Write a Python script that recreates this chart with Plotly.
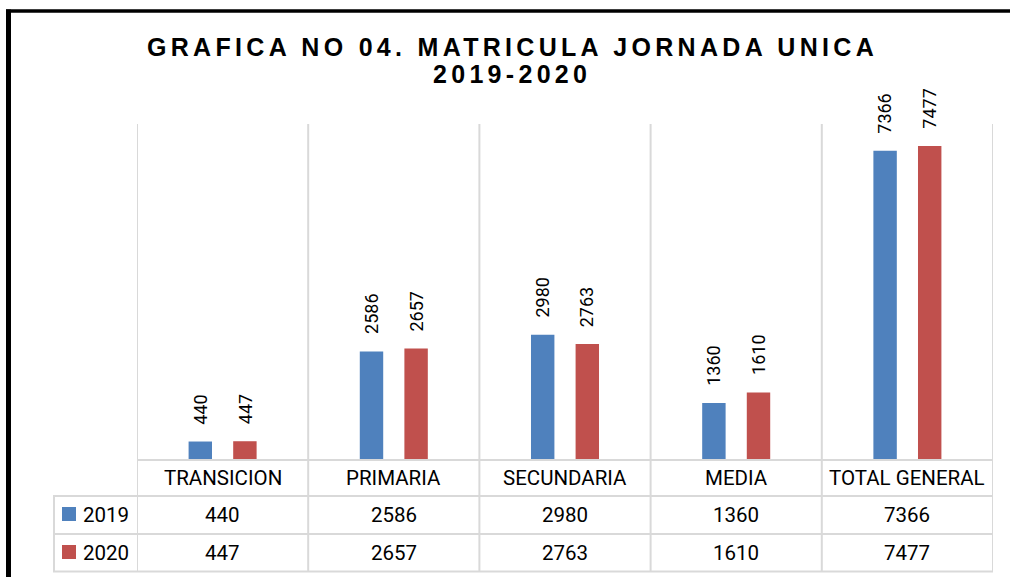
import plotly.graph_objects as go

# ---------------- data ----------------
categories = ["TRANSICION", "PRIMARIA", "SECUNDARIA", "MEDIA", "TOTAL GENERAL"]
series_names = ["2019", "2020"]
values_2019 = [440, 2586, 2980, 1360, 7366]
values_2020 = [447, 2657, 2763, 1610, 7477]
title_line1 = "GRAFICA NO 04. MATRICULA JORNADA UNICA"
title_line2 = "2019-2020"

# ---------------- layout geometry ----------------
W, H = 1010, 577
L, R, T, B = 137, 17, 124, 117
PW, PH = W - L - R, H - T - B

def px_x(p):
    return (p - L) / PW

def px_y(p):
    return (H - B - p) / PH

BLUE = "#4F81BD"
RED = "#C0504D"
GRID = "#D9D9D9"
colors = [BLUE, RED]
series_values = [values_2019, values_2020]

fig = go.Figure()
for name, vals, col in zip(series_names, series_values, colors):
    fig.add_trace(go.Bar(x=categories, y=vals, name=name,
                         marker=dict(color=col, line=dict(width=0)),
                         hoverinfo="x+y+name"))

annotations = []
shapes = []

# rotated data labels above bars
offsets = [-22.3, 22.3]
for vals, dx in zip(series_values, offsets):
    for c, v in zip(categories, vals):
        annotations.append(dict(x=c, y=v, xref="x", yref="y", text=str(v),
                                showarrow=False, textangle=-90,
                                xanchor="center", yanchor="bottom",
                                xshift=dx, yshift=15,
                                font=dict(family="Roboto", size=18, color="black")))

# data table: category row
row_cat_y = px_y(477.5)
row_y = [px_y(514.5), px_y(552.5)]
for c in categories:
    annotations.append(dict(x=c, y=row_cat_y, xref="x", yref="paper", text=c,
                            showarrow=False, xanchor="center", yanchor="middle",
                            font=dict(family="Roboto", size=20.5, color="black")))
for ry, vals in zip(row_y, series_values):
    for c, v in zip(categories, vals):
        annotations.append(dict(x=c, y=ry, xref="x", yref="paper", text=str(v),
                                showarrow=False, xanchor="center", yanchor="middle",
                                font=dict(family="Roboto", size=20.5, color="black")))

# legend keys in the table
key_tops = [507, 545]
for ry, name, col, kt in zip(row_y, series_names, colors, key_tops):
    shapes.append(dict(type="rect", xref="paper", yref="paper",
                       x0=px_x(62), x1=px_x(76), y0=px_y(kt), y1=px_y(kt + 14),
                       fillcolor=col, line=dict(width=0)))
    annotations.append(dict(x=px_x(81), y=ry, xref="paper", yref="paper", text=name,
                            showarrow=False, xanchor="left", yanchor="middle",
                            font=dict(family="Roboto", size=20.5, color="black")))

# table / grid lines
line_style = dict(color=GRID, width=2)
for i in range(len(categories) + 1):
    shapes.append(dict(type="line", xref="x", yref="paper",
                       x0=i - 0.5, x1=i - 0.5, y0=1, y1=px_y(571.5),
                       line=line_style, layer="below"))
shapes.append(dict(type="line", xref="paper", yref="paper", x0=0, x1=1,
                   y0=0, y1=0, line=line_style))
for yy in [496, 534, 571.5]:
    shapes.append(dict(type="line", xref="paper", yref="paper",
                       x0=px_x(53), x1=1, y0=px_y(yy), y1=px_y(yy), line=line_style))
shapes.append(dict(type="line", xref="paper", yref="paper",
                   x0=px_x(54), x1=px_x(54), y0=px_y(496), y1=px_y(571.5),
                   line=line_style))

# black frame (left and top edges)
shapes.append(dict(type="line", xref="paper", yref="paper",
                   x0=px_x(8.5), x1=px_x(8.5), y0=px_y(9.5), y1=px_y(H + 2),
                   line=dict(color="black", width=5)))
shapes.append(dict(type="line", xref="paper", yref="paper",
                   x0=px_x(6), x1=px_x(W + 2), y0=px_y(11), y1=px_y(11),
                   line=dict(color="black", width=3.5)))

# title
for txt, cy in [(title_line1, 46.5), (title_line2, 73.5)]:
    annotations.append(dict(x=px_x(512), y=px_y(cy), xref="paper", yref="paper",
                            text='<b><span style="letter-spacing:4.3px">' + txt + '</span></b>',
                            showarrow=False, xanchor="center", yanchor="middle",
                            font=dict(family="Liberation Sans", size=25, color="black")))

fig.update_layout(
    width=W, height=H,
    margin=dict(l=L, r=R, t=T, b=B, pad=0),
    paper_bgcolor="white", plot_bgcolor="white",
    barmode="group", bargap=0.479, bargroupgap=0.475,
    showlegend=False,
    xaxis=dict(type="category", range=[-0.5, len(categories) - 0.5],
               showticklabels=False, showgrid=False, zeroline=False, showline=False,
               fixedrange=True),
    yaxis=dict(range=[0, 8000], visible=False, showgrid=False, zeroline=False,
               fixedrange=True),
    annotations=annotations,
    shapes=shapes,
)

fig.write_html("out.html", config={"displayModeBar": False},
               post_script="document.body.style.margin='0px';")
